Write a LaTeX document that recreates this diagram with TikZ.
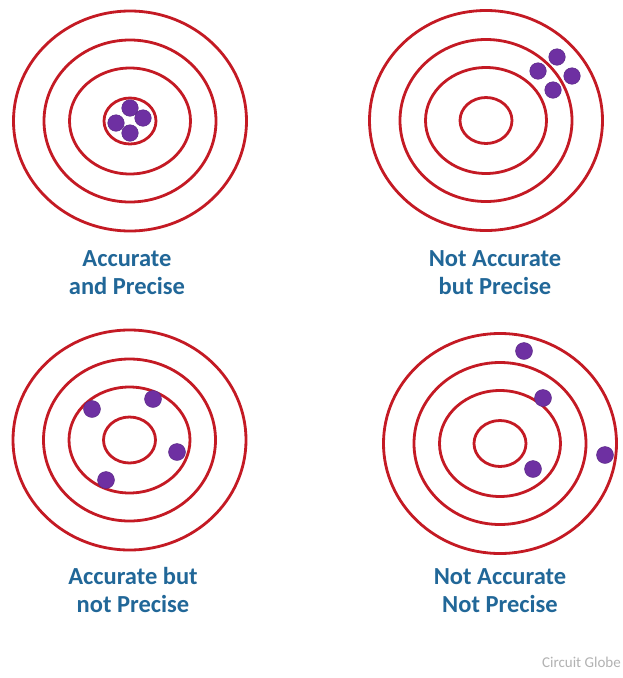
\documentclass[tikz,border=0pt]{standalone}
\usepackage{fontspec}
\setmainfont{Carlito}
\definecolor{ringred}{RGB}{196,26,36}
\definecolor{dotpurple}{RGB}{110,48,162}
\definecolor{labelblue}{RGB}{33,103,152}
\definecolor{markgray}{RGB}{178,178,178}
\tikzset{
  ring/.style={draw=ringred, line width=2.8pt},
  shot/.style={fill=dotpurple, draw=dotpurple!80!black, line width=0.4pt},
  caption/.style={text=labelblue, align=center, inner sep=0pt,
    font=\fontsize{24.5}{27.5}\selectfont\bfseries},
  pics/bullseye/.style={code={
    \draw[ring] (0,0) ellipse [x radius=116.5pt, y radius=110pt];
    \draw[ring] (0,0) ellipse [x radius=86pt, y radius=81pt];
    \draw[ring] (0,0) ellipse [x radius=60.5pt, y radius=53pt];
    \draw[ring] (0,0) ellipse [x radius=26pt, y radius=23pt];
  }}
}
\begin{document}
\begin{tikzpicture}[x=1pt,y=-1pt]
\useasboundingbox[fill=white] (0,0) rectangle (623,678);
% targets
\pic at (130,121) {bullseye};
\pic at (486,120.5) {bullseye};
\pic at (129.5,440) {bullseye};
\pic at (500,443.5) {bullseye};
% shots: accurate and precise
\foreach \p in {(130,108),(143,118),(116,123),(130,133)}
  \fill[shot] \p circle[radius=8.3pt];
% not accurate but precise
\foreach \p in {(557,57),(538,71),(572,76),(553,90)}
  \fill[shot] \p circle[radius=8.3pt];
% accurate but not precise
\foreach \p in {(92,409),(153,399),(177,452),(106,480)}
  \fill[shot] \p circle[radius=8.5pt];
% not accurate not precise
\foreach \p in {(524,351),(543,398),(605,455),(533,469)}
  \fill[shot] \p circle[radius=8.5pt];
% labels
\node[caption] (lab1) at (127,272.5) {Accurate\\and Precise};
\node[caption] (lab2) at (495,272.5) {Not Accurate\\but Precise};
\node[caption] (lab3) at (133,590) {Accurate but\\not Precise};
\node[caption] (lab4) at (500,590.5) {Not Accurate\\Not Precise};
\node[anchor=base east, inner sep=0pt, text=markgray,
  font=\fontsize{15}{18}\selectfont] (mark) at (621,667) {Circuit Globe};
\end{tikzpicture}
\end{document}
